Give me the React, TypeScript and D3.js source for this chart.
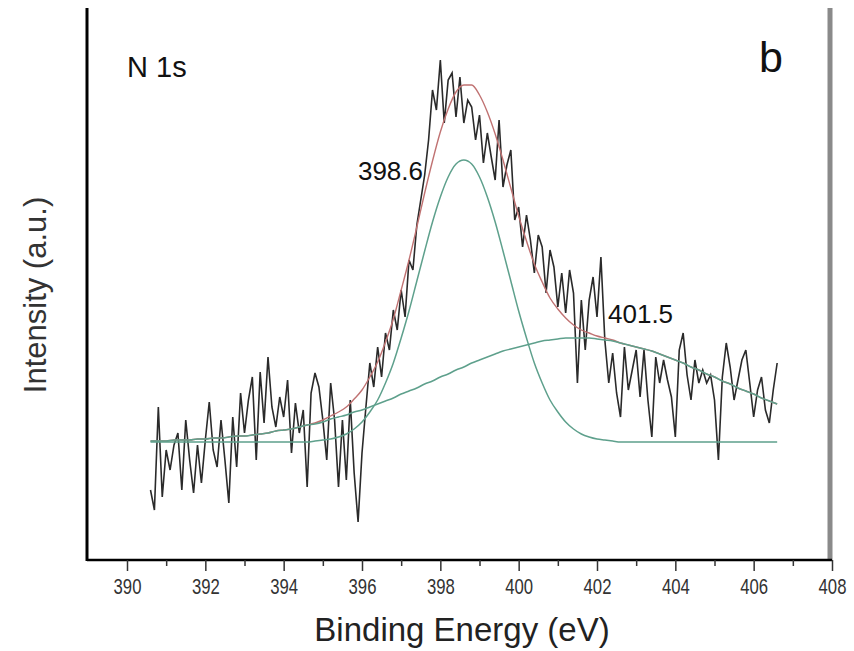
import React, { useEffect, useRef } from 'react';
import * as d3 from 'd3';

const W = 854;
const H = 651;

// raw N 1s scan, 0.1 eV steps starting at 390.6 eV (a.u.)
const scanStart = 390.6;
const scanStep = 0.1;
const counts = [
  70, 50, 153, 63, 110, 90, 115, 127, 70, 140,
  100, 67, 115, 77, 120, 158, 110, 93, 140, 100,
  57, 143, 93, 167, 127, 160, 183, 100, 188, 137,
  203, 153, 133, 163, 143, 180, 107, 157, 127, 150,
  73, 167, 187, 173, 140, 100, 177, 140, 73, 140,
  80, 160, 87, 38, 107, 153, 197, 173, 213, 183,
  227, 210, 250, 230, 270, 243, 300, 290, 335, 360,
  385, 420, 470, 450, 500, 437, 480, 487, 443, 483,
  437, 460, 453, 420, 445, 397, 427, 403, 380, 440,
  373, 395, 410, 340, 353, 313, 345, 320, 287, 325,
  313, 267, 310, 293, 253, 287, 247, 290, 267, 177,
  260, 210, 260, 283, 243, 303, 220, 177, 207, 167,
  143, 213, 170, 190, 210, 163, 210, 160, 123, 203,
  177, 200, 180, 163, 123, 210, 227, 185, 160, 200,
  177, 190, 177, 185, 160, 100, 183, 217, 193, 160,
  180, 200, 210, 177, 143, 170, 183, 150, 137, 170,
  197,
];

// fitted components, 0.2 eV steps starting at 390.6 eV
const fitStart = 390.6;
const fitStep = 0.2;
const peak1Fit = [
  118, 118, 118, 118, 118, 118, 118, 118, 118, 118,
  118, 118, 118, 118, 118, 118, 118, 118, 118, 118,
  118, 119, 120, 121, 123, 126, 131, 138, 148, 160,
  177, 197, 222, 249, 279, 309, 338, 363, 383, 396,
  400, 396, 383, 363, 338, 309, 279, 249, 222, 197,
  177, 160, 148, 138, 131, 126, 123, 121, 120, 119,
  118, 118, 118, 118, 118, 118, 118, 118, 118, 118,
  118, 118, 118, 118, 118, 118, 118, 118, 118, 118,
  118,
];
const peak2Fit = [
  119, 119, 119, 120, 120, 120, 121, 121, 122, 122,
  123, 124, 124, 125, 126, 127, 129, 130, 131, 133,
  135, 136, 138, 141, 143, 145, 148, 150, 153, 156,
  159, 162, 166, 169, 172, 176, 179, 183, 186, 190,
  193, 197, 200, 203, 206, 209, 211, 213, 215, 217,
  219, 220, 221, 222, 222, 222, 222, 221, 220, 219,
  217, 215, 213, 211, 209, 206, 203, 200, 197, 193,
  190, 186, 183, 179, 176, 172, 169, 166, 162, 159,
  156,
];
const envelopeFit = [
  119, 119, 119, 120, 120, 120, 121, 121, 122, 122,
  123, 124, 124, 125, 126, 127, 129, 130, 131, 133,
  135, 137, 140, 144, 148, 153, 161, 170, 183, 198,
  218, 241, 270, 300, 333, 367, 399, 428, 451, 468,
  475, 475, 465, 448, 426, 400, 372, 344, 319, 296,
  278, 262, 251, 242, 235, 230, 227, 224, 222, 220,
  217, 215, 213, 211, 209, 206, 203, 200, 197, 193,
  190, 186, 183, 179, 176, 172, 169, 166, 162, 159,
  156,
];

const majorTicks = [390, 392, 394, 396, 398, 400, 402, 404, 406, 408];
const minorTicks = [391, 393, 395, 397, 399, 401, 403, 405, 407];
const peakNames = ['398.6', '401.5'];

const FONT = '"Liberation Sans", Arial, sans-serif';

export default function App() {
  const ref = useRef<SVGSVGElement>(null);

  useEffect(() => {
    const svg = d3.select(ref.current);
    svg.selectAll('*').remove();

    const left = 87;
    const x = d3.scaleLinear().domain([390, 408]).range([127, 832]);
    const y = d3.scaleLinear().domain([0, 552]).range([560, 8]);

    const scanPts: [number, number][] = counts.map((c, i) => [scanStart + i * scanStep, c]);
    const fitPts = (arr: number[]) => arr.map((v, i) => [fitStart + i * fitStep, v] as [number, number]);

    const raw = d3.line<[number, number]>().x(d => x(d[0])).y(d => y(d[1]));
    const smooth = d3.line<[number, number]>().x(d => x(d[0])).y(d => y(d[1])).curve(d3.curveMonotoneX);

    // measured spectrum
    svg.append('path')
      .attr('d', raw(scanPts))
      .attr('fill', 'none')
      .attr('stroke', '#2a2a2a')
      .attr('stroke-width', 1.6);

    // envelope
    svg.append('path')
      .attr('d', smooth(fitPts(envelopeFit)))
      .attr('fill', 'none')
      .attr('stroke', '#c07272')
      .attr('stroke-width', 1.4);

    // components
    [peak1Fit, peak2Fit].forEach(arr => {
      svg.append('path')
        .attr('d', smooth(fitPts(arr)))
        .attr('fill', 'none')
        .attr('stroke', '#5ea08c')
        .attr('stroke-width', 1.5);
    });

    // right frame
    svg.append('line')
      .attr('x1', 830).attr('x2', 830).attr('y1', 8).attr('y2', 560)
      .attr('stroke', '#8a8a8a').attr('stroke-width', 5);

    // left spine
    svg.append('line')
      .attr('x1', left).attr('x2', left).attr('y1', 8).attr('y2', 561)
      .attr('stroke', '#000').attr('stroke-width', 3);

    // bottom axis
    svg.append('line')
      .attr('x1', left).attr('x2', 832).attr('y1', 560).attr('y2', 560)
      .attr('stroke', '#000').attr('stroke-width', 2.5);

    const minorAxis = svg.append('g')
      .attr('transform', 'translate(0,560)')
      .call(d3.axisBottom(x).tickValues(minorTicks).tickSize(6).tickFormat(() => ''));
    minorAxis.select('.domain').remove();
    minorAxis.selectAll('.tick line').attr('stroke', '#333').attr('stroke-width', 1.5);

    const majorAxis = svg.append('g')
      .attr('transform', 'translate(0,560)')
      .call(d3.axisBottom(x).tickValues(majorTicks).tickSize(11).tickPadding(7).tickFormat(d3.format('d')));
    majorAxis.select('.domain').remove();
    majorAxis.selectAll('.tick line').attr('stroke', '#333').attr('stroke-width', 1.5);
    majorAxis.selectAll('.tick text')
      .attr('font-family', FONT)
      .attr('font-size', 22)
      .attr('fill', '#333')
      .attr('transform', 'scale(0.76,1)');

    // titles
    svg.append('text')
      .attr('x', 462).attr('y', 641)
      .attr('text-anchor', 'middle')
      .attr('font-family', FONT).attr('font-size', 33).attr('fill', '#222')
      .text('Binding Energy (eV)');

    svg.append('text')
      .attr('transform', 'translate(46,295) rotate(-90)')
      .attr('text-anchor', 'middle')
      .attr('font-family', FONT).attr('font-size', 31).attr('fill', '#333')
      .text('Intensity (a.u.)');

    svg.append('text')
      .attr('x', 127).attr('y', 77)
      .attr('font-family', FONT).attr('font-size', 29).attr('fill', '#111')
      .text('N 1s');

    svg.append('text')
      .attr('x', 759).attr('y', 72)
      .attr('font-family', FONT).attr('font-size', 43).attr('fill', '#111')
      .text('b');

    // peak labels
    svg.append('text')
      .attr('x', 423).attr('y', 180)
      .attr('text-anchor', 'end')
      .attr('font-family', FONT).attr('font-size', 26).attr('fill', '#111')
      .text(peakNames[0]);

    svg.append('text')
      .attr('x', 608).attr('y', 323)
      .attr('font-family', FONT).attr('font-size', 26).attr('fill', '#111')
      .text(peakNames[1]);
  }, []);

  return (
    <svg
      ref={ref}
      width={W}
      height={H}
      style={{ position: 'absolute', left: 0, top: 0, background: '#fff' }}
    />
  );
}
